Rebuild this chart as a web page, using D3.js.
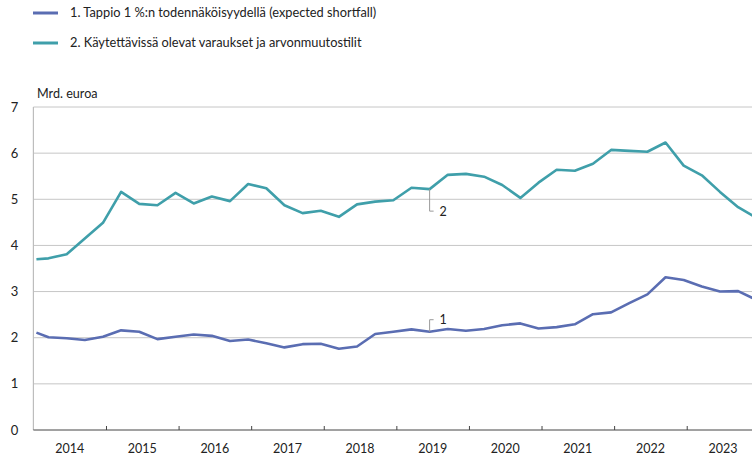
<!DOCTYPE html>
<html>
<head>
<meta charset="utf-8">
<script src="https://cdn.jsdelivr.net/npm/d3@7"></script>
<style>
  body { margin: 0; background: #fff; }
  svg { display: block; font-family: Lato, "Open Sans", sans-serif; }
</style>
</head>
<body>
<div id="chart"></div>
<script>
const dates = [
  "2014-01",
  "2014-03", "2014-06", "2014-09", "2014-12",
  "2015-03", "2015-06", "2015-09", "2015-12",
  "2016-03", "2016-06", "2016-09", "2016-12",
  "2017-03", "2017-06", "2017-09", "2017-12",
  "2018-03", "2018-06", "2018-09", "2018-12",
  "2019-03", "2019-06", "2019-09", "2019-12",
  "2020-03", "2020-06", "2020-09", "2020-12",
  "2021-03", "2021-06", "2021-09", "2021-12",
  "2022-03", "2022-06", "2022-09", "2022-12",
  "2023-03", "2023-06", "2023-09", "2023-12"
];

// 1. expected shortfall
const shortfall = [
  2.11,
  2.01, 1.99, 1.95, 2.02,
  2.16, 2.13, 1.97, 2.02,
  2.07, 2.04, 1.93, 1.96,
  1.88, 1.79, 1.86, 1.87,
  1.76, 1.81, 2.08, 2.13,
  2.18, 2.13, 2.19, 2.15,
  2.19, 2.27, 2.31, 2.20,
  2.23, 2.29, 2.51, 2.55,
  2.75, 2.94, 3.31, 3.25,
  3.11, 3.00, 3.01, 2.82
];

// 2. varaukset ja arvonmuutostilit
const reserves = [
  3.70,
  3.72, 3.81, 4.15, 4.49,
  5.16, 4.90, 4.87, 5.14,
  4.91, 5.06, 4.96, 5.33,
  5.24, 4.87, 4.70, 4.75,
  4.62, 4.89, 4.95, 4.98,
  5.25, 5.22, 5.53, 5.55,
  5.49, 5.31, 5.03, 5.36,
  5.64, 5.62, 5.77, 6.07,
  6.05, 6.03, 6.23, 5.73,
  5.52, 5.16, 4.83, 4.60
];

const years = [2014, 2015, 2016, 2017, 2018, 2019, 2020, 2021, 2022, 2023];
const yTicks = [0, 1, 2, 3, 4, 5, 6, 7];
const seriesNames = [
  "1. Tappio 1 %:n todennäköisyydellä (expected shortfall)",
  "2. Käytettävissä olevat varaukset ja arvonmuutostilit"
];
const colors = ["#5a6db2", "#3f9faa"];
const labelDate = "2019-06";

const W = 752, H = 461;
const margin = { top: 107, left: 33.4, bottom: 31 };

const svg = d3.select("#chart").append("svg")
  .attr("width", W)
  .attr("height", H);

// month -> fractional year (middle of the month)
const toYear = s => {
  const [yy, mm] = s.split("-").map(Number);
  return yy + (mm - 0.5) / 12;
};

const x = d3.scaleLinear()
  .domain([2014, 2024])
  .range([margin.left, margin.left + 72.59 * 10]);

const y = d3.scaleLinear()
  .domain([0, 7])
  .range([H - margin.bottom, margin.top]);

// grid
svg.append("g")
  .selectAll("line")
  .data(yTicks.filter(d => d > 0))
  .join("line")
  .attr("x1", margin.left)
  .attr("x2", W)
  .attr("y1", d => y(d))
  .attr("y2", d => y(d))
  .attr("stroke", "#c6c6c6")
  .attr("stroke-width", 1);

// y axis line
svg.append("line")
  .attr("x1", margin.left).attr("x2", margin.left)
  .attr("y1", y(7)).attr("y2", y(0))
  .attr("stroke", "#bdbdbd")
  .attr("stroke-width", 1.2);

// y labels
svg.append("g")
  .selectAll("text")
  .data(yTicks)
  .join("text")
  .attr("x", 14.5)
  .attr("y", d => y(d))
  .attr("dy", "0.35em")
  .attr("text-anchor", "middle")
  .attr("font-size", 13)
  .attr("fill", "#222")
  .text(d => d);

svg.append("text")
  .attr("x", 37)
  .attr("y", 94)
  .attr("dy", "0.35em")
  .attr("font-size", 12.6)
  .attr("fill", "#222")
  .text("Mrd. euroa");

// x axis: ticks at year boundaries, labels mid-year
const xAxis = svg.append("g")
  .attr("transform", `translate(0,${y(0)})`)
  .call(d3.axisBottom(x)
    .tickValues(years.slice(1))
    .tickSize(-4)
    .tickSizeOuter(0)
    .tickFormat(""));
xAxis.select(".domain").attr("stroke", "#444").attr("d", `M${margin.left},0H${W}`);
xAxis.selectAll(".tick line").attr("stroke", "#444");

svg.append("g")
  .selectAll("text")
  .data(years)
  .join("text")
  .attr("x", d => x(d + 0.5))
  .attr("y", 449)
  .attr("dy", "0.35em")
  .attr("text-anchor", "middle")
  .attr("font-size", 12.5)
  .attr("fill", "#222")
  .text(d => d);

// lines
const line = d3.line()
  .x((d, i) => x(toYear(dates[i])))
  .y(d => y(d));

[shortfall, reserves].forEach((vals, k) => {
  svg.append("path")
    .datum(vals)
    .attr("fill", "none")
    .attr("stroke", colors[k])
    .attr("stroke-width", 2.6)
    .attr("stroke-linejoin", "round")
    .attr("d", line);
});

// series labels with leader lines
const li = dates.indexOf(labelDate);
const lx = x(toYear(labelDate));
[
  { v: shortfall[li], dy: -12, name: "1" },
  { v: reserves[li], dy: 22, name: "2" }
].forEach(a => {
  const y0 = y(a.v), y1 = y0 + a.dy;
  svg.append("path")
    .attr("d", `M${lx},${y0}V${y1}H${lx + 4}`)
    .attr("fill", "none")
    .attr("stroke", "#999")
    .attr("stroke-width", 1);
  svg.append("text")
    .attr("x", lx + 10)
    .attr("y", y1)
    .attr("dy", "0.35em")
    .attr("font-size", 12.5)
    .attr("fill", "#222")
    .text(a.name);
});

// legend
const legend = svg.append("g")
  .selectAll("g")
  .data(seriesNames)
  .join("g")
  .attr("transform", (d, i) => `translate(33,${13 + i * 30})`);

legend.append("line")
  .attr("x1", 0).attr("x2", 25)
  .attr("stroke", (d, i) => colors[i])
  .attr("stroke-width", 3);

legend.append("text")
  .attr("x", 37)
  .attr("dy", "0.35em")
  .attr("font-size", 12.8)
  .attr("fill", "#222")
  .text(d => d);
</script>
</body>
</html>
